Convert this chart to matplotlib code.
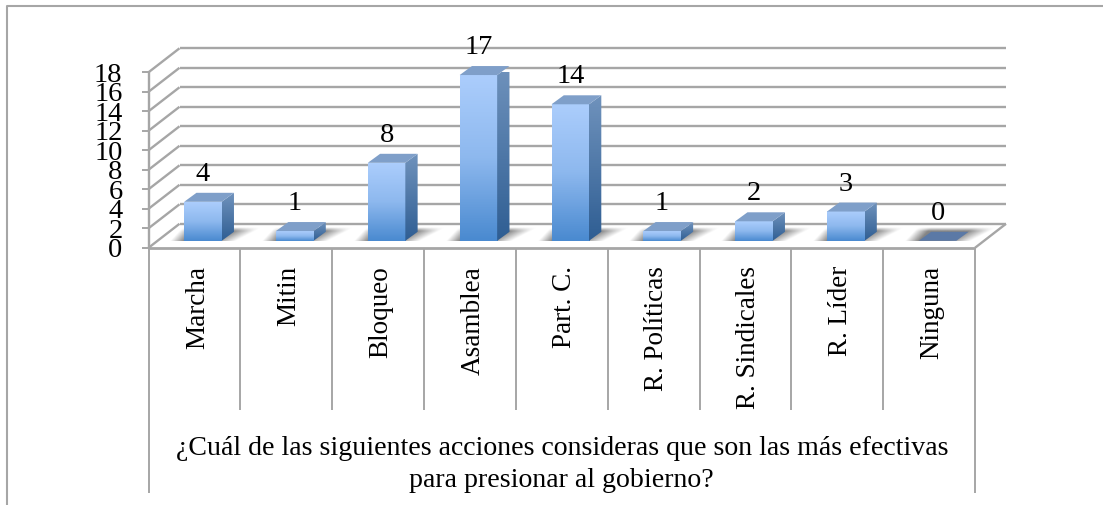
import numpy as np
import matplotlib
matplotlib.use("Agg")
import matplotlib.pyplot as plt
from matplotlib.colors import LinearSegmentedColormap
from matplotlib.lines import Line2D
from matplotlib.patches import Polygon

categories = ["Marcha", "Mitin", "Bloqueo", "Asamblea", "Part. C.",
              "R. Políticas", "R. Sindicales", "R. Líder", "Ninguna"]
values = [4, 1, 8, 17, 14, 1, 2, 3, 0]
y_ticks = [0, 2, 4, 6, 8, 10, 12, 14, 16, 18]
x_title = "¿Cuál de las siguientes acciones consideras que son las más efectivas\npara presionar al gobierno?"

W, H = 1103, 506
GRID = "#A6A6A6"
plt.rcParams["font.family"] = ["Liberation Serif", "DejaVu Serif"]

# pixel box of the front plane
left, right, top, bottom = 148.5, 975.0, 73.3, 248.8

fig = plt.figure(figsize=(W / 100, H / 100), dpi=100)
ax = fig.add_axes([left / W, 1 - bottom / H, (right - left) / W, (bottom - top) / H])
ax.axis("off")

# size of one pixel in data units, used for the fake 3d depth
px = len(categories) / (right - left)
py = y_ticks[-1] / (bottom - top)

wall_x, wall_y = 31 * px, 24 * py
floor_x, floor_y = 8.5 * px, 7 * py
bar_w = 37.5 * px
side_x, side_y = 12.3 * px, 9 * py

front_cmap = LinearSegmentedColormap.from_list("front", ["#ABCDFC", "#8DB8EE", "#4A8AD0"])
side_cmap = LinearSegmentedColormap.from_list("side", ["#6F92BC", "#2F5E93"])
grad = np.linspace(0, 1, 64).reshape(-1, 1)

# shadow texture in pixels from the bar's front left corner, row 0 is the back of the floor
sh_x, sh_y = np.meshgrid(np.linspace(-16, 78, 190), np.linspace(14, 0, 30))
shadow = np.zeros(sh_x.shape + (4,))
shadow[..., :3] = 0.4
shadow[..., 3] = (0.8 * np.clip((sh_x + 14 - 0.9 * sh_y) / 14, 0, 1)
                  * np.clip((52 + 1.9 * sh_y - sh_x) / 22, 0, 1)
                  * np.clip((14 - sh_y) / 4, 0, 1))


def line(xs, ys, lw=1.7):
    ax.plot(xs, ys, color=GRID, lw=lw, clip_on=False, zorder=1, solid_capstyle="butt")


# walls and floor
for v in y_ticks:
    line([0, wall_x], [v, v + wall_y])
    line([wall_x, 9 + wall_x], [v + wall_y, v + wall_y])
    line([-7 * px, 0], [v, v], lw=1.4)
line([0, 0], [0, y_ticks[-1]])
line([0, 9], [0, 0], lw=2.0)
line([9, 9 + wall_x], [0, wall_y])

# separators under the axis
for i in range(len(categories) + 1):
    end = -245 * py if i in (0, len(categories)) else -162 * py
    line([i, i], [0, end], lw=1.4)

for i, v in enumerate(values):
    x0 = i + 0.5 + floor_x - bar_w / 2
    x1 = x0 + bar_w
    y0 = floor_y

    ax.imshow(shadow, extent=[x0 - 16 * px, x0 + 78 * px, y0, y0 + 14 * py], origin="upper",
              aspect="auto", zorder=2, clip_on=False)

    y1 = y0 + v
    if v == 0:
        ax.add_patch(Polygon([(x0, y0), (x1, y0), (x1 + side_x, y0 + side_y), (x0 + side_x, y0 + side_y)],
                             fc="#5B79A6", ec="none", zorder=3, clip_on=False))
    else:
        ax.imshow(grad, cmap=front_cmap, extent=[x0, x1, y0, y1], origin="upper", aspect="auto", zorder=3, clip_on=False)
        side = ax.imshow(grad, cmap=side_cmap, extent=[x1, x1 + side_x, y0, y1 + side_y], origin="upper", aspect="auto", zorder=3)
        clip = Polygon([(x1, y0), (x1 + side_x, y0 + side_y), (x1 + side_x, y1 + side_y), (x1, y1)], transform=ax.transData)
        side.set_clip_path(clip)
        ax.add_patch(Polygon([(x0, y1), (x1, y1), (x1 + side_x, y1 + side_y), (x0 + side_x, y1 + side_y)],
                             fc="#7F9FC9", ec="none", zorder=3, clip_on=False))
    ax.text((x0 + x1) / 2, y1 + 28.5 * py, str(v), ha="center", va="center", fontsize=20.5, color="black", zorder=5)

    ax.text(i + 0.5 + 3 * px, -17 * py, categories[i], rotation=90, ha="center", va="top", fontsize=19.5, color="black")

for v in y_ticks:
    ax.text(-26 * px, v - 2 * py, str(v), ha="right", va="center", fontsize=20.5, color="black")

ax.text(4.5, -216 * py, x_title, ha="center", va="center", fontsize=20.1, color="black", linespacing=1.38)

ax.set_xlim(0, len(categories))
ax.set_ylim(0, y_ticks[-1])

# outer chart border, open on the right
fig.add_artist(Line2D([7 / W, 7 / W, 1], [0, 1 - 7 / H, 1 - 7 / H], color=GRID, lw=1.5))

fig.savefig("out.png", dpi=100, facecolor="white")
